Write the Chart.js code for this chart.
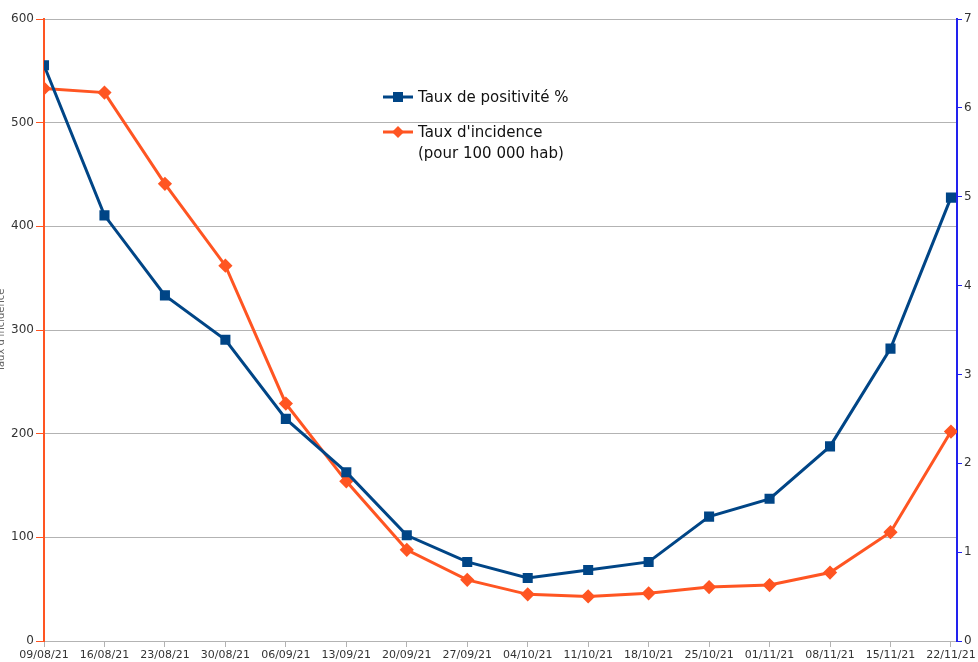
<!DOCTYPE html>
<html>
<head>
<meta charset="utf-8">
<script src="https://cdn.jsdelivr.net/npm/chart.js@4"></script>
<style>
  html, body { margin: 0; padding: 0; background: #fff; }
  #wrap { width: 978px; height: 662px; }
</style>
</head>
<body>
<div id="wrap"><canvas id="chart" width="978" height="662"></canvas></div>
<script>
// Weekly dates (x axis)
const weeks = ['09/08/21', '16/08/21', '23/08/21', '30/08/21', '06/09/21', '13/09/21', '20/09/21', '27/09/21',
               '04/10/21', '11/10/21', '18/10/21', '25/10/21', '01/11/21', '08/11/21', '15/11/21', '22/11/21'];

// Taux de positivité % (right axis)
const positivite = [6.48, 4.79, 3.89, 3.39, 2.50, 1.90, 1.19, 0.89, 0.71, 0.80, 0.89, 1.40, 1.60, 2.19, 3.29, 4.99];

// Taux d'incidence pour 100 000 hab (left axis)
const incidence = [533, 529, 441, 362, 229, 154, 88, 59, 45, 43, 46, 52, 54, 66, 105, 202];

const leftTicks = [0, 100, 200, 300, 400, 500, 600];
const rightTicks = [0, 1, 2, 3, 4, 5, 6, 7];

const BLUE = '#004586';
const ORANGE = '#ff5522';
const FONT = 'DejaVu Sans';

// Legend drawn inside the plot, plus the clipped left axis title
const extras = {
    id: 'extras',
    afterDraw(chart) {
        const ctx = chart.ctx;
        ctx.save();
        // left axis title, partly cut by the page edge
        ctx.translate(1, 330);
        ctx.rotate(-Math.PI / 2);
        ctx.font = '10px ' + FONT;
        ctx.fillStyle = '#666';
        ctx.textAlign = 'center';
        ctx.textBaseline = 'middle';
        ctx.fillText("Taux d'incidence", 0, 0);
        ctx.restore();

        ctx.save();
        ctx.lineWidth = 3;
        // blue entry
        ctx.strokeStyle = BLUE;
        ctx.beginPath(); ctx.moveTo(383, 97); ctx.lineTo(413, 97); ctx.stroke();
        ctx.fillStyle = BLUE;
        ctx.fillRect(393, 92, 10, 10);
        // orange entry
        ctx.strokeStyle = ORANGE;
        ctx.beginPath(); ctx.moveTo(383, 132); ctx.lineTo(413, 132); ctx.stroke();
        ctx.fillStyle = ORANGE;
        ctx.beginPath();
        ctx.moveTo(398, 126); ctx.lineTo(404, 132); ctx.lineTo(398, 138); ctx.lineTo(392, 132);
        ctx.closePath(); ctx.fill();

        ctx.font = '15px ' + FONT;
        ctx.fillStyle = '#111';
        ctx.textBaseline = 'middle';
        ctx.fillText('Taux de positivité %', 418, 98);
        ctx.fillText("Taux d'incidence", 418, 133);
        ctx.fillText('(pour 100 000 hab)', 418, 154);
        ctx.restore();
    }
};

function createChart() {
    const ctx = document.getElementById('chart').getContext('2d');

    new Chart(ctx, {
        type: 'line',
        data: {
            datasets: [{
                label: 'Taux de positivité %',
                data: positivite.map((v, i) => ({ x: i, y: v })),
                yAxisID: 'yRight',
                borderColor: BLUE,
                backgroundColor: BLUE,
                borderWidth: 3,
                pointStyle: 'rect',
                pointRadius: 5,
                pointHoverRadius: 5,
                tension: 0
            }, {
                label: "Taux d'incidence (pour 100 000 hab)",
                data: incidence.map((v, i) => ({ x: i, y: v })),
                yAxisID: 'yLeft',
                borderColor: ORANGE,
                backgroundColor: ORANGE,
                borderWidth: 3,
                pointStyle: 'rectRot',
                pointRadius: 5,
                pointHoverRadius: 5,
                tension: 0
            }]
        },
        options: {
            responsive: false,
            animation: false,
            layout: { padding: { top: 19, left: 0, right: 0, bottom: 0 } },
            plugins: {
                legend: { display: false },
                tooltip: { enabled: false }
            },
            scales: {
                x: {
                    type: 'linear',
                    min: 0,
                    max: 15.1,
                    afterBuildTicks: axis => {
                        axis.ticks = weeks.map((w, i) => ({ value: i }));
                    },
                    afterFit: scale => { scale.height = 21; },
                    grid: {
                        drawOnChartArea: false,
                        color: '#b3b3b3',
                        tickLength: 6
                    },
                    border: { display: false },
                    ticks: {
                        autoSkip: false,
                        maxRotation: 0,
                        padding: 2,
                        color: '#333',
                        font: { family: FONT, size: 11 },
                        callback: v => weeks[v] ?? ''
                    }
                },
                yLeft: {
                    position: 'left',
                    min: 0,
                    max: 600,
                    afterBuildTicks: axis => {
                        axis.ticks = leftTicks.map(v => ({ value: v }));
                    },
                    afterFit: scale => { scale.width = 44; },
                    grid: {
                        color: '#b3b3b3',
                        tickColor: ORANGE,
                        tickLength: 8
                    },
                    border: { color: ORANGE, width: 2 },
                    ticks: {
                        color: '#333',
                        padding: 2,
                        font: { family: FONT, size: 12 }
                    }
                },
                yRight: {
                    position: 'right',
                    min: 0,
                    max: 7,
                    afterBuildTicks: axis => {
                        axis.ticks = rightTicks.map(v => ({ value: v }));
                    },
                    afterFit: scale => { scale.width = 21; },
                    grid: {
                        drawOnChartArea: false,
                        tickColor: '#2222ee',
                        tickLength: 5
                    },
                    border: { color: '#2222ee', width: 2 },
                    ticks: {
                        color: '#333',
                        padding: 2,
                        font: { family: FONT, size: 12 }
                    }
                }
            }
        },
        plugins: [extras]
    });
}

document.addEventListener('DOMContentLoaded', createChart);
</script>
</body>
</html>
